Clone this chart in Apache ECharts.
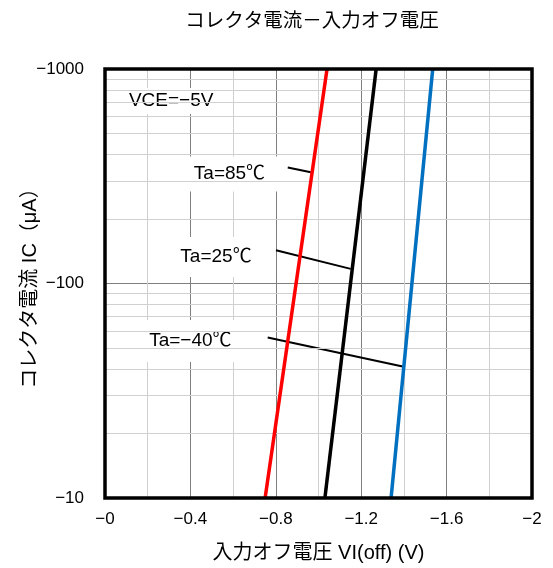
<!DOCTYPE html>
<html><head><meta charset="utf-8">
<script src="https://cdn.jsdelivr.net/npm/echarts@6/dist/echarts.min.js"></script>
<style>html,body{margin:0;padding:0;background:#fff}#c{width:553px;height:568px}</style>
</head><body><div id="c"></div>
<script>
// Values (both axes are negative quantities)
const xTickValues = [0, -0.4, -0.8, -1.2, -1.6, -2];
const yTickValues = [-10, -100, -1000];
const yMinorGrid = [-20,-30,-40,-50,-60,-70,-80,-90,-200,-300,-400,-500,-600,-700,-800,-900];
const icEnds = [-10, -1000];           // IC (uA) at both ends of each curve
const vi85 = [-0.75, -1.04];           // Ta=85℃
const vi25 = [-1.03, -1.27];           // Ta=25℃
const viM40 = [-1.34, -1.535];         // Ta=-40℃
const seriesNames = ['Ta=85℃', 'Ta=25℃', 'Ta=−40℃'];
const leader85 = [[-0.856, -347], [-0.964, -330]];
const leader25 = [[-0.801, -143], [-1.151, -117]];
const leaderM40 = [[-0.762, -56], [-1.394, -41]];
const labelPos = [[-0.583, -324], [-0.52, -133], [-0.40, -54]];
const condText = 'VCE=−5V';
const condPos = [-0.31, -710];

const mag = v => Math.abs(v);
const pts = (xs, ys) => xs.map((x, i) => [mag(x), mag(ys[i])]);
const fmt = v => '−' + String(Math.round(v * 10) / 10);
const FONT = '"Liberation Sans", Arial, "Noto Sans CJK JP", sans-serif';

const chart = echarts.init(document.getElementById('c'));
const leaderStyle = {color: '#000', width: 2};
const curve = (name, xs, color) => ({
  name, type: 'line', data: pts(xs, icEnds), symbol: 'none', silent: true, z: 5,
  lineStyle: {color, width: 3.5}
});
const leader = (d) => ({
  type: 'line', data: d.map(p => [mag(p[0]), mag(p[1])]), symbol: 'none', silent: true, z: 4,
  lineStyle: leaderStyle
});
const labelBox = (txt, p, size) => ({
  type: 'scatter', symbol: 'rect', symbolSize: size, silent: true, z: 3,
  itemStyle: {color: '#fff', opacity: 1},
  data: [[mag(p[0]), mag(p[1])]],
  label: {show: true, position: 'inside', formatter: '{t|' + txt + '}',
    rich: {t: {color: '#000', fontSize: 19, fontFamily: FONT, textBorderWidth: 0}}}
});

chart.setOption({
  animation: false,
  backgroundColor: '#fff',
  title: {text: 'コレクタ電流－入力オフ電圧', left: 307, top: 7, textAlign: 'center',
    textStyle: {fontSize: 19.5, fontWeight: 'normal', color: '#000', fontFamily: FONT}},
  grid: {left: 105, right: 21, top: 69, bottom: 70, show: true, borderColor: '#000', borderWidth: 3.5,
    backgroundColor: 'transparent', z: 10},
  xAxis: {
    type: 'value', min: 0, max: 2, interval: 0.4,
    name: '入力オフ電圧 VI(off) (V)', nameLocation: 'middle', nameGap: 45,
    nameTextStyle: {fontSize: 20, color: '#000', fontFamily: FONT},
    axisLine: {show: false}, axisTick: {show: false},
    axisLabel: {fontSize: 17, color: '#000', fontFamily: FONT, margin: 13,
      formatter: v => fmt(v)},
    splitLine: {show: true, showMinLine: false, showMaxLine: false, lineStyle: {color: '#7f7f7f', width: 1}},
    minorTick: {show: false, splitNumber: 2},
    minorSplitLine: {show: true, lineStyle: {color: '#d0d0d0', width: 1}}
  },
  yAxis: {
    type: 'log', logBase: 10, min: 10, max: 1000,
    name: 'コレクタ電流 IC（μA）', nameLocation: 'middle', nameGap: 65, nameRotate: 90,
    nameMoveOverlap: false,
    nameTextStyle: {fontSize: 20, color: '#000', fontFamily: FONT},
    axisLine: {show: false}, axisTick: {show: false},
    axisLabel: {fontSize: 17, color: '#000', fontFamily: FONT, margin: 21,
      formatter: v => '−' + Math.round(v)},
    splitLine: {show: true, showMinLine: false, showMaxLine: false, lineStyle: {color: '#7f7f7f', width: 1}}
  },
  series: [
    {type: 'line', data: [], silent: true, z: 1,
      markLine: {silent: true, symbol: 'none', label: {show: false}, animation: false,
        lineStyle: {color: '#d0d0d0', width: 1, type: 'solid'},
        data: yMinorGrid.map(v => ({yAxis: mag(v)}))}},
    curve(seriesNames[0], vi85, '#ff0000'),
    curve(seriesNames[1], vi25, '#000000'),
    curve(seriesNames[2], viM40, '#0070c0'),
    leader(leader85), leader(leader25), leader(leaderM40),
    labelBox(seriesNames[0], labelPos[0], [116, 35]),
    labelBox(seriesNames[1], labelPos[1], [120, 40]),
    labelBox(seriesNames[2], labelPos[2], [140, 42]),
    labelBox(condText, condPos, [104, 26])
  ]
});
</script></body></html>
